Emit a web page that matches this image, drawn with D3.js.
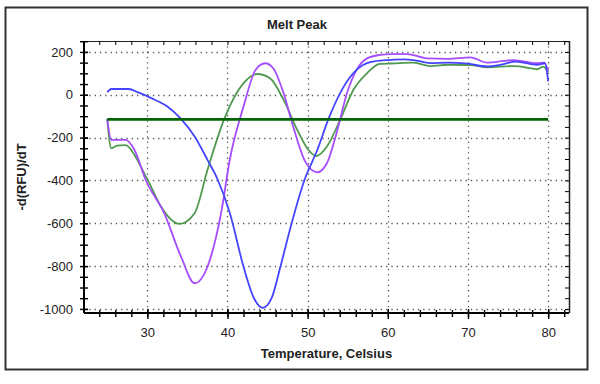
<!DOCTYPE html>
<html>
<head>
<meta charset="utf-8">
<script src="https://cdn.jsdelivr.net/npm/d3@7"></script>
<style>
	body { margin: 0; background: #fff; }
	text { font-family: "Liberation Sans", Arial, sans-serif; fill: #222; }
</style>
</head>
<body>
<div id="melt-peak"></div>
<script>
// melt peak curves (temperature in C, -d(RFU)/dT)
const blueTemps = [25.0, 25.5, 27.7, 28.8, 30.5, 32.5, 34.2, 35.9, 37.5, 38.8, 40.3, 42.0, 43.3, 44.4, 45.5, 46.6, 48.0, 49.6, 51.2, 52.6, 54.5, 56.1, 57.8, 59.9, 62.0, 63.2, 65.3, 67.5, 70.0, 72.4, 74.0, 76.0, 78.6, 79.6, 80.0];
const blueValues = [12, 27, 27, 12, -16, -55, -113, -195, -304, -398, -553, -803, -950, -995, -950, -803, -600, -398, -258, -113, 38, 116, 152, 162, 165, 162, 148, 150, 145, 132, 140, 155, 140, 147, 62];

const purpleTemps = [25.0, 25.5, 27.3, 28.4, 29.8, 32.1, 34.2, 35.9, 37.5, 39.2, 40.3, 42.0, 43.5, 44.7, 45.7, 47.0, 48.2, 49.7, 51.2, 52.4, 53.6, 54.9, 56.1, 57.4, 59.0, 60.5, 62.4, 64.9, 67.5, 70.3, 72.4, 74.5, 75.7, 78.6, 79.5, 80.0];
const purpleValues = [-113, -211, -211, -258, -398, -553, -756, -880, -803, -553, -300, -55, 116, 147, 124, 7, -149, -312, -362, -320, -180, 7, 116, 170, 186, 190, 190, 170, 168, 175, 150, 158, 162, 147, 150, 110];

const greenTemps = [25.0, 25.5, 26.2, 27.3, 28.4, 29.4, 30.25, 31.7, 34.0, 35.9, 37.5, 39.6, 42.0, 43.7, 45.3, 47.0, 48.7, 50.1, 51.1, 52.4, 54.1, 55.7, 57.4, 59.0, 60.5, 63.2, 65.3, 67.5, 70.3, 72.4, 75.7, 77.8, 78.6, 79.4, 80.0];
const greenValues = [-113, -250, -238, -235, -281, -351, -413, -522, -603, -553, -351, -113, 54, 97, 77, -24, -164, -258, -286, -242, -113, 22, 100, 144, 146, 150, 134, 140, 139, 128, 134, 124, 119, 131, 105];

// threshold line
const thresholdTemps = [25, 80];
const thresholdValue = -115;

const xTicks = [30, 40, 50, 60, 70, 80];
const yTicks = [-1000, -800, -600, -400, -200, 0, 200];

const width = 600;
const height = 384;
const plot = { left: 84, right: 569, top: 41, bottom: 313 };

const svg = d3
	.select("#melt-peak")
	.append("svg")
	.attr("width", width)
	.attr("height", height);

// outer frame
svg.append("rect")
	.attr("x", 5.5)
	.attr("y", 7.5)
	.attr("width", 582)
	.attr("height", 362)
	.attr("fill", "none")
	.attr("stroke", "#333")
	.attr("stroke-width", 2);

const x = d3.scaleLinear().domain([22.1, 82.6]).range([plot.left, plot.right]);
const y = d3.scaleLinear().domain([-1019, 251]).range([plot.bottom, plot.top]);

// dotted grid
const grid = svg.append("g")
	.attr("stroke", "#555")
	.attr("stroke-width", 1.3)
	.attr("stroke-dasharray", "1.3,4");

grid.selectAll(".vgrid")
	.data(xTicks)
	.enter()
	.append("line")
	.attr("x1", (d) => Math.round(x(d)) + 0.5)
	.attr("x2", (d) => Math.round(x(d)) + 0.5)
	.attr("y1", plot.top)
	.attr("y2", plot.bottom);

grid.selectAll(".hgrid")
	.data(yTicks)
	.enter()
	.append("line")
	.attr("y1", (d) => Math.round(y(d)) + 0.5)
	.attr("y2", (d) => Math.round(y(d)) + 0.5)
	.attr("x1", plot.left)
	.attr("x2", plot.right);

// curves
const line = d3.line()
	.x((d) => x(d[0]))
	.y((d) => y(d[1]))
	.curve(d3.curveMonotoneX);

const series = [
	{ temps: greenTemps, values: greenValues, color: "#4f9a4f" },
	{ temps: purpleTemps, values: purpleValues, color: "#a64cff" },
	{ temps: blueTemps, values: blueValues, color: "#4545ff" },
];

series.forEach((s) => {
	svg.append("path")
		.datum(d3.zip(s.temps, s.values))
		.attr("d", line)
		.attr("fill", "none")
		.attr("stroke", s.color)
		.attr("stroke-width", 1.8);
});

svg.append("path")
	.datum(thresholdTemps.map((t) => [t, thresholdValue]))
	.attr("d", d3.line().x((d) => x(d[0])).y((d) => y(d[1])))
	.attr("stroke", "#006400")
	.attr("stroke-width", 2.6);

// plot box: top and right thin, ticks pointing in
svg.append("line")
	.attr("x1", plot.left).attr("x2", plot.right)
	.attr("y1", plot.top + 0.5).attr("y2", plot.top + 0.5)
	.attr("stroke", "#222");
svg.append("line")
	.attr("x1", plot.right + 0.5).attr("x2", plot.right + 0.5)
	.attr("y1", plot.top).attr("y2", plot.bottom)
	.attr("stroke", "#222").attr("stroke-width", 1.5);

const minorX = d3.range(24, 83, 2);
const minorY = d3.range(-1000, 251, 50);

svg.append("g")
	.attr("transform", `translate(0,${plot.top})`)
	.call(d3.axisBottom(x).tickValues(minorX).tickSize(4).tickFormat(""))
	.call((g) => g.select(".domain").remove());

svg.append("g")
	.attr("transform", `translate(${plot.right},0)`)
	.call(d3.axisLeft(y).tickValues(minorY).tickSize(4).tickFormat(""))
	.call((g) => g.select(".domain").remove());

// left axis
const yMinor = svg.append("g")
	.attr("transform", `translate(${plot.left},0)`)
	.call(d3.axisLeft(y).tickValues(minorY).tickSize(4).tickFormat(""));
yMinor.selectAll(".tick line").attr("x2", 4).attr("x1", -4).attr("stroke-width", 1.4);
yMinor.select(".domain").remove();

const yAxis = svg.append("g")
	.attr("transform", `translate(${plot.left},0)`)
	.call(d3.axisLeft(y).tickValues(yTicks).tickSize(7).tickPadding(4).tickFormat((d) => String(d)));
yAxis.selectAll(".tick line").attr("x2", 4).attr("stroke-width", 1.4);
yAxis.select(".domain").attr("d", `M0,${plot.top}V${plot.bottom}`).attr("stroke-width", 2);
yAxis.selectAll("text")
	.style("font-size", "13px")
	.style("font-family", "Liberation Sans, Arial, sans-serif")
	.attr("fill", "#222");

// bottom axis
const xMinor = svg.append("g")
	.attr("transform", `translate(0,${plot.bottom})`)
	.call(d3.axisBottom(x).tickValues(minorX).tickSize(3).tickFormat(""));
xMinor.selectAll(".tick line").attr("y1", -3).attr("y2", 4).attr("stroke-width", 1.4);
xMinor.select(".domain").remove();

const xAxis = svg.append("g")
	.attr("transform", `translate(0,${plot.bottom})`)
	.call(d3.axisBottom(x).tickValues(xTicks).tickSize(6).tickPadding(9).tickFormat((d) => String(d)));
xAxis.selectAll(".tick line").attr("y1", -4).attr("stroke-width", 1.4);
xAxis.select(".domain").attr("d", `M${plot.left},0H${plot.right}`).attr("stroke-width", 2);
xAxis.selectAll("text")
	.style("font-size", "13px")
	.style("font-family", "Liberation Sans, Arial, sans-serif")
	.attr("fill", "#222");

// titles
svg.append("text")
	.attr("x", 297)
	.attr("y", 29)
	.attr("text-anchor", "middle")
	.style("font-size", "13px")
	.style("font-weight", "bold")
	.text("Melt Peak");

svg.append("text")
	.attr("x", (plot.left + plot.right) / 2)
	.attr("y", 358)
	.attr("text-anchor", "middle")
	.style("font-size", "13px")
	.style("font-weight", "bold")
	.text("Temperature, Celsius");

svg.append("text")
	.attr("transform", "translate(26,177) rotate(-90)")
	.attr("text-anchor", "middle")
	.style("font-size", "13px")
	.style("font-weight", "bold")
	.text("-d(RFU)/dT");
</script>
</body>
</html>
